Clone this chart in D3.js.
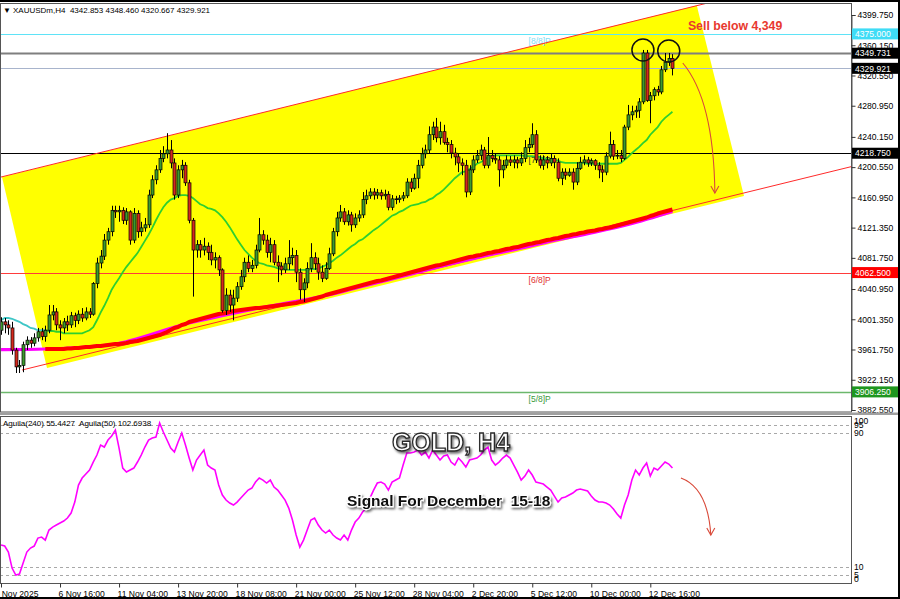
<!DOCTYPE html>
<html><head><meta charset="utf-8">
<script src="https://cdn.jsdelivr.net/npm/d3@7"></script>
<style>
html,body{margin:0;padding:0;background:#fff;}
svg{display:block;font-family:"Liberation Sans",Arial,sans-serif;}
</style></head><body>
<svg id="chart" width="900" height="599"></svg>
<script>
// ---------------- DATA ----------------
const headerText = "XAUUSDm,H4  4342.853 4348.460 4320.667 4329.921";
const oscHeader = "Aguila(240) 55.4427  Aguila(50) 102.6938";

const opens = [3987,3998,3994,3990,3961,3939,3941,3968,3974,3970,
3977,3985,3979,3987,4007,4011,3994,3990,3998,3994,
4006,4000,4008,4003,4011,4008,4048,4075,4084,4105,
4116,4144,4142,4144,4131,4142,4105,4140,4116,4121,
4125,4164,4184,4197,4212,4218,4223,4206,4164,4197,
4203,4180,4131,4092,4099,4092,4097,4089,4079,4082,
4066,4013,4033,4020,4029,4044,4057,4076,4068,4072,
4092,4112,4105,4089,4099,4076,4071,4066,4074,4082,
4085,4063,4040,4049,4068,4082,4074,4063,4055,4068,
4087,4116,4134,4142,4129,4138,4125,4134,4138,4158,
4163,4168,4164,4167,4163,4165,4148,4159,4158,4160,
4163,4181,4173,4186,4203,4218,4223,4243,4253,4239,
4247,4233,4230,4219,4214,4206,4203,4168,4197,4210,
4216,4223,4203,4216,4212,4210,4197,4203,4210,4207,
4210,4206,4212,4226,4230,4243,4210,4203,4210,4206,
4212,4207,4186,4194,4190,4194,4181,4199,4207,4210,
4206,4209,4203,4197,4194,4215,4230,4215,4216,4212,
4253,4269,4273,4275,4286,4350,4288,4294,4302,4299,
4328,4338,4342.853];
const highs = [4004,4003,4000,3998,3964,3948,3972,3979,3978,3983,
3990,3990,3993,4020,4020,4016,4000,4003,4006,4011,
4010,4013,4016,4017,4016,4050,4082,4092,4113,4121,
4150,4150,4150,4148,4147,4144,4147,4144,4129,4134,
4171,4190,4203,4223,4228,4245,4236,4212,4203,4210,
4207,4184,4134,4105,4105,4108,4102,4099,4089,4085,
4068,4042,4040,4040,4050,4066,4082,4085,4079,4099,
4134,4118,4112,4108,4105,4085,4076,4082,4105,4095,
4092,4068,4055,4076,4101,4089,4082,4072,4076,4095,
4121,4142,4151,4147,4144,4142,4140,4144,4168,4171,
4173,4173,4172,4171,4171,4169,4164,4163,4164,4168,
4186,4186,4192,4210,4226,4230,4254,4260,4265,4260,
4256,4239,4236,4226,4218,4212,4210,4203,4216,4223,
4230,4227,4240,4223,4218,4215,4210,4216,4215,4216,
4214,4220,4236,4239,4258,4249,4216,4216,4215,4218,
4216,4212,4199,4199,4199,4199,4207,4214,4216,4214,
4212,4211,4207,4203,4220,4247,4236,4223,4223,4256,
4282,4281,4281,4291,4354,4354,4299,4305,4307,4333,
4350,4350,4348.46];
const lows = [3981,3983,3981,3955,3931,3931,3932,3961,3964,3966,
3972,3974,3972,3983,4000,3987,3974,3983,3986,3990,
3991,3995,3998,4000,4003,4006,4042,4068,4079,4099,
4110,4134,4129,4126,4125,4099,4101,4108,4110,4116,
4121,4160,4178,4193,4207,4212,4199,4158,4160,4186,
4176,4127,4031,4082,4082,4085,4079,4072,4068,4058,
4010,4007,4011,4000,4024,4040,4050,4063,4063,4068,
4089,4099,4082,4076,4072,4050,4059,4062,4066,4072,
4050,4027,4024,4042,4063,4066,4053,4050,4053,4066,
4084,4110,4129,4125,4124,4116,4121,4129,4134,4152,
4159,4158,4159,4158,4158,4144,4144,4152,4154,4156,
4160,4168,4171,4173,4199,4212,4219,4236,4233,4230,
4230,4220,4212,4203,4194,4190,4161,4164,4193,4206,
4210,4199,4199,4207,4205,4175,4186,4199,4202,4199,
4199,4202,4207,4220,4226,4206,4199,4197,4199,4202,
4199,4182,4177,4184,4188,4171,4177,4197,4203,4201,
4202,4197,4186,4181,4190,4212,4210,4211,4207,4210,
4249,4262,4265,4265,4283,4286,4258,4288,4294,4296,
4325,4333,4320.667];
const closes = [3998,3994,3990,3961,3939,3941,3968,3974,3970,3977,
3985,3979,3987,4007,4011,3994,3990,3998,3994,4006,
4000,4008,4003,4011,4008,4048,4075,4084,4105,4116,
4144,4142,4144,4131,4142,4105,4140,4116,4121,4125,
4164,4184,4197,4212,4218,4223,4206,4164,4197,4203,
4180,4131,4092,4099,4092,4097,4089,4079,4082,4066,
4013,4033,4020,4029,4044,4057,4076,4068,4072,4092,
4112,4105,4089,4099,4076,4071,4066,4074,4082,4085,
4063,4040,4049,4068,4082,4074,4063,4055,4068,4087,
4116,4134,4142,4129,4138,4125,4134,4138,4158,4163,
4168,4164,4167,4163,4165,4148,4159,4158,4160,4163,
4181,4173,4186,4203,4218,4223,4243,4253,4239,4247,
4233,4230,4219,4214,4206,4203,4168,4197,4210,4216,
4223,4203,4216,4212,4210,4197,4203,4210,4207,4210,
4206,4212,4226,4230,4243,4210,4203,4210,4206,4212,
4207,4186,4194,4190,4194,4181,4199,4207,4210,4206,
4209,4203,4197,4194,4215,4230,4215,4216,4212,4253,
4269,4273,4275,4286,4350,4288,4294,4302,4299,4328,
4338,4342.853,4329.921];

// fast moving average (cyan until colourSwitchIdx, then green)
const fastMa = [4000,4003,4003,4002,4000,3998,3995,3993,3990,3989,
3987,3987,3987,3986,3986,3985,3985,3983,3983,3983,
3983,3983,3983,3985,3987,3991,4000,4010,4019,4029,
4040,4048,4055,4063,4070,4076,4082,4088,4096,4104,
4112,4121,4131,4140,4148,4154,4158,4160,4163,4164,
4164,4163,4160,4156,4152,4150,4147,4146,4144,4140,
4135,4129,4122,4114,4106,4099,4092,4087,4082,4078,
4075,4074,4072,4071,4070,4068,4068,4067,4066,4066,
4066,4066,4066,4066,4067,4067,4068,4070,4072,4075,
4078,4082,4085,4089,4093,4097,4100,4104,4106,4110,
4114,4118,4121,4125,4129,4133,4137,4139,4142,4144,
4147,4150,4151,4152,4154,4155,4158,4160,4164,4167,
4171,4176,4181,4186,4190,4194,4195,4198,4201,4205,
4207,4210,4214,4215,4216,4216,4216,4216,4216,4216,
4216,4216,4215,4215,4215,4214,4214,4212,4211,4210,
4210,4209,4207,4206,4206,4206,4206,4206,4206,4205,
4205,4205,4205,4205,4205,4205,4205,4205,4206,4210,
4214,4219,4223,4227,4232,4236,4243,4248,4253,4260,
4265,4269,4273];
const fastMaColourSwitchIdx = 12;

// slow moving average (red), starting at bar slowMaStart
const slowMaStart = 12;
const slowMa = [3962.4,3962.4,3962.4,3962.4,3962.4,3962.4,3963.1,3963.1,
3963.7,3963.7,3964.4,3965.0,3965.0,3965.7,3966.3,3966.3,3967.0,3967.6,
3968.3,3968.9,3968.9,3969.6,3970.3,3971.6,3972.2,3972.9,3974.2,3975.5,
3976.8,3978.1,3979.4,3980.7,3982.7,3984.7,3987.3,3989.9,3991.2,3993.9,
3995.2,3997.8,3999.1,4000.4,4001.7,4003.0,4004.3,4005.6,4006.9,4008.2,
4008.9,4009.6,4010.9,4012.2,4012.8,4013.5,4014.1,4014.8,4015.4,4016.1,
4016.1,4016.7,4017.4,4018.1,4018.7,4019.4,4020.0,4020.7,4021.3,4022.0,
4022.6,4024.0,4024.6,4025.9,4027.2,4028.5,4029.8,4031.1,4033.1,4034.4,
4035.7,4037.0,4038.3,4039.7,4041.0,4042.3,4043.6,4044.9,4046.2,4047.5,
4048.8,4050.1,4051.5,4052.1,4053.4,4054.7,4056.0,4057.3,4058.6,4059.9,
4061.3,4062.6,4063.9,4065.2,4066.5,4067.8,4069.1,4070.4,4071.7,4072.4,
4073.7,4075.0,4076.3,4077.6,4078.9,4080.3,4081.6,4082.9,4083.5,4084.8,
4085.5,4086.8,4088.1,4088.8,4090.1,4090.7,4092.0,4093.3,4094.0,4095.3,
4095.9,4097.3,4098.6,4099.9,4100.5,4101.8,4102.5,4103.8,4105.1,4105.8,
4107.1,4107.8,4109.1,4110.4,4111.0,4112.3,4113.0,4114.3,4115.0,4116.3,
4116.9,4117.6,4118.9,4119.6,4120.9,4121.5,4122.8,4124.1,4125.4,4126.7,
4128.1,4129.4,4130.7,4132.0,4133.3,4134.6,4136.6,4137.9,4139.8,4141.1,
4142.4,4143.8,4145.1];

// second slow average (magenta), read at sample bars
const magentaIdx = [0,12,30,50,70,90,100,110,120,130,140,150,160,170,182];
const magentaMa = [3961.5,3962.4,3968.3,3995.2,4016.1,4034.5,4047.0,4059.0,4071.5,4083.0,4093.5,4104.5,4114.5,4125.5,4142.5];

// oscillator (Aguila)
const osc = [23.0,22.4,18.8,9.2,5.0,5.6,12.2,18.8,21.2,22.4,
27.2,27.8,26.0,32.0,33.8,35.0,36.2,37.4,39.2,42.2,
48.8,59.0,63.2,65.6,68.0,72.8,77.0,83.0,81.8,86.0,
88.4,92.0,81.2,69.2,66.8,68.0,69.2,72.8,77.0,81.8,
86.0,87.2,87.8,96.2,90.8,86.0,81.2,78.8,84.8,90.2,
83.0,75.2,68.0,74.0,77.0,80.0,71.0,69.2,68.0,59.0,
53.0,50.0,48.2,47.0,48.8,51.2,53.6,56.0,57.2,60.8,
63.2,62.0,60.2,62.0,57.8,56.0,53.0,50.0,45.2,38.0,
29.0,21.8,26.0,32.0,38.0,39.2,35.0,32.0,30.2,32.0,
29.0,27.2,26.0,29.0,26.0,32.0,36.8,39.2,42.8,45.2,
51.2,56.0,60.2,60.8,59.6,56.0,60.8,62.0,63.2,71.0,
78.2,78.2,78.8,80.0,77.0,78.8,75.2,80.0,77.0,74.0,
76.4,77.0,72.8,71.0,75.2,72.8,69.8,74.0,74.6,75.2,
77.0,80.0,81.8,74.0,71.0,72.8,75.2,77.0,75.2,71.0,
66.8,62.0,64.4,68.0,65.0,60.8,60.2,59.6,57.8,56.0,
52.4,48.8,51.2,51.8,53.0,54.2,56.0,56.6,56.0,55.4,
52.4,50.0,48.8,48.8,48.2,47.0,44.6,41.6,39.2,47.0,
53.0,62.0,68.0,65.0,69.2,72.2,64.4,69.2,68.0,70.4,
72.8,71.6,69.2];

const priceTicks = [4399.750,4360.150,4320.550,4280.950,4240.150,4200.550,4160.950,4121.350,4081.750,4040.950,4001.350,3961.750,3922.150,3882.550];
const timeTickIdx = [0,16,32,48,64,80,96,112,128,144,160,176];
const timeLabels = ["4 Nov 2025","6 Nov 16:00","11 Nov 04:00","13 Nov 20:00","18 Nov 08:00","21 Nov 00:00","25 Nov 12:00","28 Nov 04:00","2 Dec 20:00","5 Dec 12:00","10 Dec 00:00","12 Dec 16:00"];

// horizontal levels
const levelPrices = [4375.000,4349.731,4329.921,4218.750,4062.500,3906.250];
const levelTags = ["[8/8]P","","","[7/8]P","[6/8]P","[5/8]P"];
const levelTagIdx = 143;

// oscillator levels
const oscLevels = [95,90,10,5];
const oscTickValues = [100,95,90,10,5,0];

// channel (bar index, price)
const channelUpper = [[0,4187.6],[230.4,4461.7]];
const channelLower = [[5.7,3934.9],[230.4,4201.1]];
const channelBox = [[0.27,4187.6],[188.6,4412.2],[201.4,4162.8],[12.47,3937.6]];

// annotations (bar index, price)
const topCircles = [[174,4353.9],[181,4352.6]];
const sellText = "Sell below 4,349";
const sellAnchor = [186.2,4380];
const arrowMain = [[184.8,4336.9],[193.2,4288.4],[193.5,4166.6]];
const arrowOsc = [[184.3,63.2],[191.6,57.2],[192.4,29.0]];
const titleText = "GOLD, H4";
const signalText = "Signal For December  15-18";

// ---------------- DRAW ----------------
const W = 900, H = 599;
const svg = d3.select("#chart");
const x = d3.scaleLinear().domain([0, 230.4]).range([1, 851]);
const y = d3.scaleLinear().domain([3882.55, 4399.75]).range([410, 15]);
const yo = d3.scaleLinear().domain([0, 100]).range([583.4, 416.7]);

svg.append("rect").attr("width", W).attr("height", H).attr("fill", "#fff");
const defs = svg.append("defs");
defs.append("clipPath").attr("id", "mainClip").append("rect")
  .attr("x", 0).attr("y", 3.5).attr("width", 851).attr("height", 408.5);
defs.append("clipPath").attr("id", "oscClip").append("rect")
  .attr("x", 0).attr("y", 416.5).attr("width", 851).attr("height", 167);
const f = defs.append("filter").attr("id", "shadow")
  .attr("x", "-10%").attr("y", "-40%").attr("width", "130%").attr("height", "190%");
f.append("feDropShadow").attr("dx", 1.5).attr("dy", 2).attr("stdDeviation", 1)
  .attr("flood-color", "#000").attr("flood-opacity", 0.55);

const main = svg.append("g").attr("clip-path", "url(#mainClip)");
const lineXY = d3.line().x(d => x(d[0])).y(d => y(d[1]));

// yellow channel box
main.append("path").attr("d", lineXY(channelBox) + "Z").attr("fill", "#ffff00");

// levels
const levelStyle = [
  {stroke: "#5fe3f7", w: 1, box: "#3fdcf6", tag: "#7fe0f4"},
  {stroke: "#7f7f7f", w: 2, box: "#000", tag: "#000"},
  {stroke: "#a8b4cc", w: 1, box: "#000", tag: "#000"},
  {stroke: "#000", w: 1, box: "#000", tag: "#333"},
  {stroke: "#ff3b3b", w: 1, box: "#ff0000", tag: "#e03030"},
  {stroke: "#6cb86c", w: 1.5, box: "#1f961f", tag: "#3a9a3a"}
];
levelPrices.forEach((p, k) => {
  const yy = Math.round(y(p)) + 0.5;
  main.append("line").attr("x1", 0).attr("x2", 851).attr("y1", yy).attr("y2", yy)
    .attr("stroke", levelStyle[k].stroke).attr("stroke-width", levelStyle[k].w);
  if (levelTags[k]) {
    main.append("text").attr("x", x(levelTagIdx)).attr("y", yy + 9)
      .attr("font-size", 8.5).attr("fill", levelStyle[k].tag).text(levelTags[k]);
  }
});

// channel lines
[channelUpper, channelLower].forEach(c => {
  main.append("path").attr("d", lineXY(c)).attr("fill", "none")
    .attr("stroke", "#ff2a2a").attr("stroke-width", 1);
});

// moving averages
const mag = magentaIdx.map((d, k) => [d, magentaMa[k]]);
main.append("path").attr("d", d3.line().curve(d3.curveMonotoneX).x(d => x(d[0])).y(d => y(d[1]))(mag))
  .attr("fill", "none").attr("stroke", "#ff00ff").attr("stroke-width", 3.2);
const slow = slowMa.map((v, k) => [k + slowMaStart, v]);
main.append("path").attr("d", lineXY(slow)).attr("fill", "none")
  .attr("stroke", "#ff0000").attr("stroke-width", 4).attr("stroke-linejoin", "round");
const fast = fastMa.map((v, k) => [k, v]);
main.append("path").attr("d", lineXY(fast.slice(0, fastMaColourSwitchIdx + 1))).attr("fill", "none")
  .attr("stroke", "#3ec6c6").attr("stroke-width", 1.8);
main.append("path").attr("d", lineXY(fast.slice(fastMaColourSwitchIdx))).attr("fill", "none")
  .attr("stroke", "#2fcf2f").attr("stroke-width", 1.8);

// candles
const candles = opens.map((o, i) => ({i, o, h: highs[i], l: lows[i], c: closes[i]}));
const cg = main.append("g");
cg.selectAll("line.wick").data(candles).join("line").attr("class", "wick")
  .attr("x1", d => Math.round(x(d.i)) + 0.5).attr("x2", d => Math.round(x(d.i)) + 0.5)
  .attr("y1", d => y(d.h)).attr("y2", d => y(d.l))
  .attr("stroke", "#000").attr("stroke-width", 1);
cg.selectAll("rect.body").data(candles).join("rect").attr("class", "body")
  .attr("x", d => Math.round(x(d.i)) + 0.5 - 1.5).attr("width", 3)
  .attr("y", d => y(Math.max(d.o, d.c)))
  .attr("height", d => Math.max(0.8, Math.abs(y(d.o) - y(d.c))))
  .attr("fill", d => d.c >= d.o ? "#3d9a2e" : "#d42a1e")
  .attr("stroke", "#000").attr("stroke-width", 0.7);

// circles on the double top
main.selectAll("circle.top").data(topCircles).join("circle").attr("class", "top")
  .attr("cx", d => x(d[0])).attr("cy", d => y(d[1])).attr("r", 11)
  .attr("fill", "none").attr("stroke", "#111").attr("stroke-width", 1.5);

// arrows
function arrowPath(pts, sx, sy) {
  const p = pts.map(d => [sx(d[0]), sy(d[1])]);
  return `M${p[0][0]},${p[0][1]} Q${p[1][0]},${p[1][1]} ${p[2][0]},${p[2][1]}`;
}
function arrowHead(g, pts, sx, sy) {
  const ex = sx(pts[2][0]), ey = sy(pts[2][1]);
  g.append("path").attr("d", `M${ex - 4},${ey - 7} L${ex},${ey} L${ex + 4},${ey - 7}`)
    .attr("fill", "none").attr("stroke", "#d94a3a").attr("stroke-width", 1.1);
}
main.append("path").attr("d", arrowPath(arrowMain, x, y)).attr("fill", "none")
  .attr("stroke", "#d94a3a").attr("stroke-width", 1.1);
arrowHead(main, arrowMain, x, y);

main.append("text").attr("x", x(sellAnchor[0])).attr("y", y(sellAnchor[1]))
  .attr("font-size", 12.3).attr("font-weight", "bold").attr("fill", "#e8392f").text(sellText);

// header
svg.append("text").attr("x", 3).attr("y", 13).attr("font-size", 8).attr("fill", "#000")
  .text("\u25BC");
svg.append("text").attr("x", 13).attr("y", 13).attr("font-size", 8).attr("fill", "#000")
  .style("white-space", "pre").text(headerText);

// main panel border
svg.append("rect").attr("x", 0.5).attr("y", 3.5).attr("width", 851).attr("height", 408.5)
  .attr("fill", "none").attr("stroke", "#555").attr("stroke-width", 1);

// price axis
const pAxis = svg.append("g").attr("transform", "translate(851.5,0)")
  .call(d3.axisRight(y).tickValues(priceTicks).tickFormat(d3.format(".3f")).tickSize(4).tickPadding(2));
pAxis.select(".domain").attr("stroke", "#555");
pAxis.selectAll(".tick line").attr("stroke", "#333");
pAxis.selectAll(".tick text").attr("font-size", 8.6).attr("fill", "#000")
  .attr("font-family", "Liberation Sans, Arial, sans-serif");

// level boxes on axis
levelPrices.forEach((p, k) => {
  const yy = y(p);
  svg.append("rect").attr("x", 852).attr("y", yy - 5.5).attr("width", 46).attr("height", 11)
    .attr("fill", levelStyle[k].box);
  svg.append("text").attr("x", 855).attr("y", yy + 3.2).attr("font-size", 8.6)
    .attr("fill", "#fff").text(p.toFixed(3));
});

// separator
svg.append("rect").attr("x", 0).attr("y", 412.5).attr("width", 900).attr("height", 2.5).attr("fill", "#a0a0a0");

// oscillator panel
const og = svg.append("g").attr("clip-path", "url(#oscClip)");
oscLevels.forEach(v => {
  og.append("line").attr("x1", 0).attr("x2", 851).attr("y1", Math.round(yo(v)) + 0.5).attr("y2", Math.round(yo(v)) + 0.5)
    .attr("stroke", "#a8a8a8").attr("stroke-width", 1).attr("stroke-dasharray", "3,3");
});
og.append("path").attr("d", d3.line().x((d, i) => x(i)).y(d => yo(d))(osc))
  .attr("fill", "none").attr("stroke", "#ff00ff").attr("stroke-width", 1.6);
og.append("path").attr("d", arrowPath(arrowOsc, x, yo)).attr("fill", "none")
  .attr("stroke", "#d94a3a").attr("stroke-width", 1.1);
arrowHead(og, arrowOsc, x, yo);

svg.append("text").attr("x", 3).attr("y", 426).attr("font-size", 8).attr("fill", "#000")
  .style("white-space", "pre").text(oscHeader);

// overlay titles
svg.append("text").attr("x", 451).attr("y", 451).attr("text-anchor", "middle")
  .attr("font-size", 25).attr("font-weight", "bold").attr("fill", "#fff")
  .attr("stroke", "#2a2a2a").attr("stroke-width", 1.3).attr("filter", "url(#shadow)")
  .text(titleText);
svg.append("text").attr("x", 347).attr("y", 506)
  .attr("font-size", 15.5).attr("font-weight", "bold").attr("fill", "#111")
  .attr("stroke", "#fff").attr("stroke-width", 2.5).attr("paint-order", "stroke")
  .attr("filter", "url(#shadow)").style("white-space", "pre").text(signalText);

svg.append("rect").attr("x", 0.5).attr("y", 416.5).attr("width", 851).attr("height", 167)
  .attr("fill", "none").attr("stroke", "#555").attr("stroke-width", 1);

// oscillator axis labels (clamped inside panel like the terminal does)
const oscLabelY = v => Math.min(Math.max(yo(v), 421), 579);
oscTickValues.forEach(v => {
  svg.append("text").attr("x", 854).attr("y", oscLabelY(v) + 3).attr("font-size", 8.6)
    .attr("fill", "#000").text(v);
});

// time axis
const tAxis = svg.append("g").attr("transform", "translate(0,583.5)")
  .call(d3.axisBottom(x).tickValues(timeTickIdx).tickFormat((d, k) => timeLabels[k]).tickSize(4).tickPadding(3));
tAxis.select(".domain").remove();
tAxis.selectAll(".tick line").attr("stroke", "#333");
tAxis.selectAll(".tick text").attr("text-anchor", "start").attr("dx", (d, k) => k === 0 ? -7 : -2)
  .attr("font-size", 8.6).attr("fill", "#000").attr("font-family", "Liberation Sans, Arial, sans-serif");

// outer frame
svg.append("rect").attr("x", 0).attr("y", 0).attr("width", W).attr("height", 2).attr("fill", "#000");
svg.append("rect").attr("x", 0).attr("y", 597).attr("width", W).attr("height", 2).attr("fill", "#000");
svg.append("rect").attr("x", 898).attr("y", 0).attr("width", 2).attr("height", H).attr("fill", "#000");
</script>
</body></html>
